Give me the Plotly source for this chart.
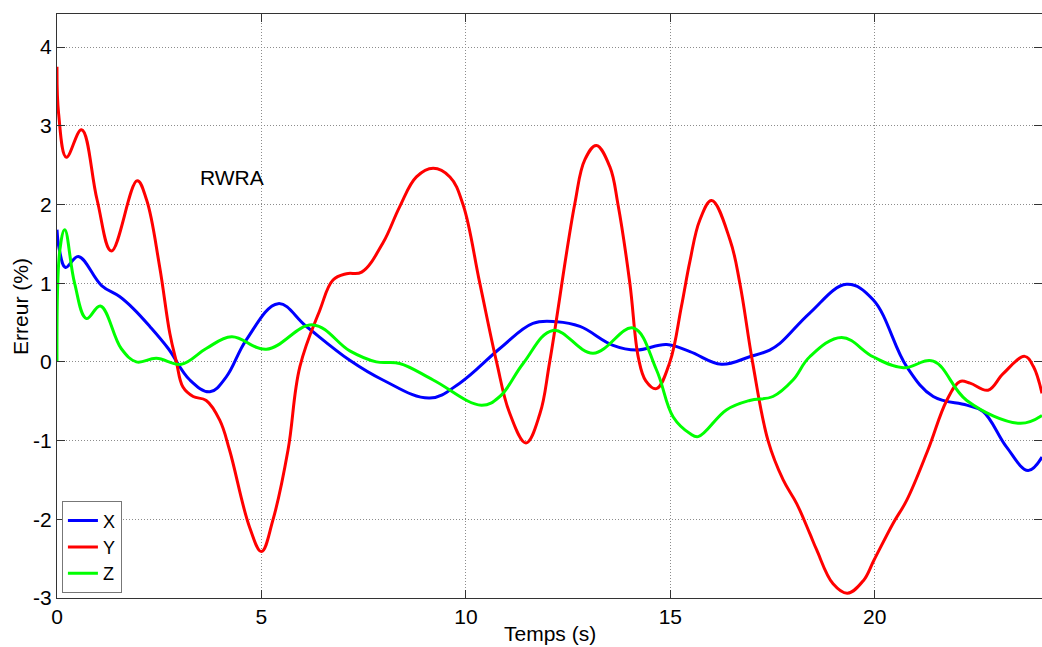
import plotly.graph_objects as go

# Time (s) and error (%) for each series
t_x = [0.0, 0.06, 0.21, 0.52, 1.09, 1.53, 1.86, 2.27, 2.72, 3.25, 3.74, 4.14, 4.63, 5.41,
       6.10, 7.16, 7.97, 9.12, 9.85, 10.83, 11.64, 12.22, 12.79, 13.6, 14.17, 14.91,
       15.48, 16.25, 16.94, 17.43, 17.68, 18.41, 19.31, 19.96, 20.78, 21.43, 22.25,
       22.65, 23.22, 23.75, 24.09]
err_x = [1.68, 1.42, 1.20, 1.34, 0.97, 0.83, 0.68, 0.45, 0.17, -0.23, -0.38, -0.19, 0.28, 0.74,
         0.45, 0.02, -0.23, -0.46, -0.27, 0.17, 0.49, 0.51, 0.45, 0.21, 0.15, 0.22,
         0.13, -0.03, 0.065, 0.15, 0.235, 0.62, 0.985, 0.79, -0.06, -0.44, -0.55,
         -0.63, -1.08, -1.38, -1.21]

t_y = [0.0, 0.04, 0.23, 0.60, 0.98, 1.33, 1.96, 2.19, 2.51, 2.76, 2.92, 3.08, 3.33, 3.65,
       3.98, 4.22, 4.71, 5.0, 5.28, 5.65, 5.94, 6.43, 6.75, 7.08, 7.45, 7.97, 8.38,
       8.79, 9.2, 9.61, 9.93, 10.34, 10.75, 11.07, 11.47, 11.81, 12.05,
       12.66, 12.91, 13.19, 13.52, 13.72, 14.01, 14.22, 14.4, 14.66, 14.99, 15.27, 15.48,
       15.72, 16.01, 16.46, 16.70, 17.01, 17.39, 17.76, 18.09, 18.41, 18.58,
       18.98, 19.33, 19.72, 19.98, 20.45, 20.78, 21.3, 21.76, 22.08, 22.33, 22.77,
       23.14, 23.67, 23.88, 24.09]
err_y = [3.75, 3.15, 2.60, 2.95, 2.06, 1.41, 2.30, 2.06, 1.21, 0.36, 0.0, -0.32, -0.44, -0.49,
         -0.74, -1.12, -2.10, -2.41, -2.01, -1.12, -0.06, 0.66, 1.04, 1.12, 1.14, 1.51, 1.97,
         2.35, 2.46, 2.35, 2.0, 1.0, 0.0, -0.65, -1.03, -0.66, 0.0,
         2.0, 2.57, 2.75, 2.48, 2.0, 1.0, 0.05, -0.24, -0.34, 0.0, 0.70, 1.28,
         1.80, 2.05, 1.55, 1.0, 0.0, -1.0, -1.50, -1.80, -2.18, -2.39,
         -2.82, -2.94, -2.78, -2.52, -2.05, -1.76, -1.12, -0.49, -0.25, -0.27, -0.36,
         -0.15, 0.07, -0.06, -0.40]

t_z = [0.0, 0.07, 0.19, 0.43, 0.72, 1.06, 1.57, 1.94, 2.43, 3.04, 3.65, 4.27, 5.12, 6.26,
       7.16, 7.81, 8.38, 9.2, 10.38, 10.83, 11.4, 12.13, 13.11, 14.09, 14.66, 15.07,
       15.48, 15.68, 16.37, 16.94, 17.51, 18.0, 18.41, 19.19, 19.96, 20.7, 21.43,
       22.25, 23.55, 24.09]
err_z = [0.0, 1.42, 1.68, 1.0, 0.55, 0.71, 0.17, 0.0, 0.045, -0.03, 0.17, 0.32, 0.16, 0.47,
         0.14, 0.0, -0.02, -0.23, -0.55, -0.44, -0.02, 0.40, 0.11, 0.43, -0.10, -0.70,
         -0.91, -0.95, -0.61, -0.49, -0.44, -0.23, 0.065, 0.31, 0.065, -0.075, 0.01,
         -0.49, -0.78, -0.68]

x_ticks = [0, 5, 10, 15, 20]
y_ticks = [-3, -2, -1, 0, 1, 2, 3, 4]

FONT = "Liberation Sans, Arial, Helvetica, sans-serif"
FS = 21

fig = go.Figure()
for name, tt, vv, col in [("X", t_x, err_x, "#0000FF"),
                          ("Y", t_y, err_y, "#FF0000"),
                          ("Z", t_z, err_z, "#00FF00")]:
    fig.add_trace(go.Scatter(x=tt, y=vv, mode="lines", name=name,
                             line=dict(color=col, width=3, shape="spline", smoothing=1.1)))

fig.add_annotation(x=4.29, y=2.34, text="RWRA", showarrow=False,
                   font=dict(family=FONT, size=FS, color="black"))
fig.add_annotation(x=0.5, y=-0.061, xref="paper", yref="paper", text="Temps (s)",
                   showarrow=False, xanchor="center", yanchor="middle",
                   font=dict(family=FONT, size=FS, color="black"))
fig.add_annotation(x=-0.0376, y=0.5, xref="paper", yref="paper", text="Erreur (%)",
                   showarrow=False, textangle=-90, xanchor="center", yanchor="middle",
                   font=dict(family=FONT, size=FS, color="black"))

axis_common = dict(showline=True, linecolor="#333333", linewidth=1, mirror="ticks",
                   ticks="inside", ticklen=8, tickcolor="#333333",
                   showgrid=True, gridcolor="#8c8c8c", griddash="1px,2px", gridwidth=1,
                   zeroline=False, automargin=False,
                   tickfont=dict(family=FONT, size=FS, color="black"))

fig.update_xaxes(range=[0, 24.09], tickvals=x_ticks, ticktext=[str(v) for v in x_ticks],
                 **axis_common)
fig.update_yaxes(range=[-3, 4.42], tickvals=y_ticks, ticktext=[str(v) for v in y_ticks],
                 **axis_common)

fig.update_layout(
    width=1042, height=647,
    margin=dict(l=57, r=0, t=14, b=49),
    paper_bgcolor="white", plot_bgcolor="white",
    font=dict(family=FONT, size=FS, color="black"),
    showlegend=True,
    legend=dict(x=0.005, y=0.008, xanchor="left", yanchor="bottom",
                bgcolor="white", bordercolor="#777777", borderwidth=1,
                font=dict(family=FONT, size=18, color="black"),
                itemwidth=30, tracegroupgap=0),
)

fig.write_html("out.html", post_script="document.body.style.margin='0px';",
               config={"displayModeBar": False})
